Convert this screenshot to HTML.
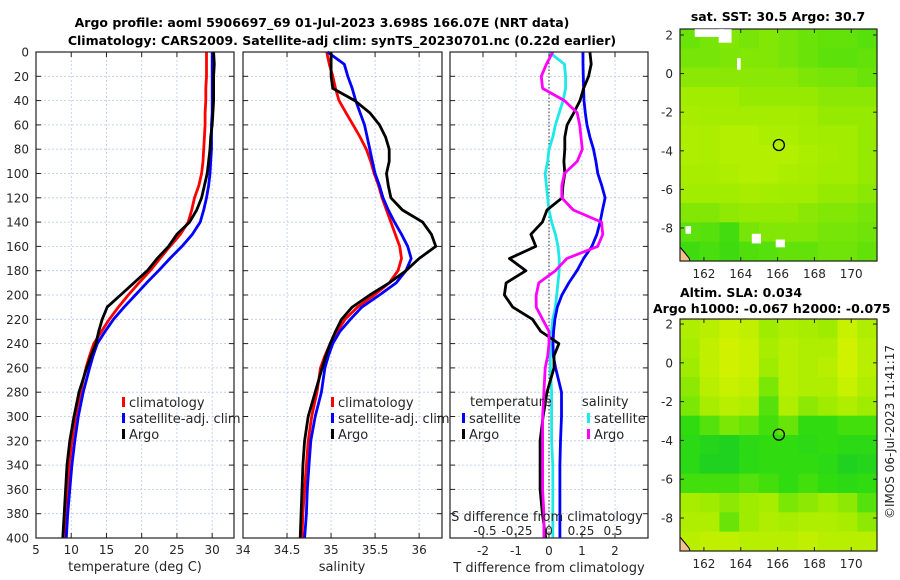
<!DOCTYPE html>
<html><head><meta charset="utf-8"><style>
html,body{margin:0;padding:0;background:#fff;}
svg{display:block;font-family:"DejaVu Sans","Liberation Sans",sans-serif;}
.tk{font-size:12px;fill:#262626;}
.tt{font-size:12.5px;font-weight:bold;fill:#000;}
</style></head><body>
<svg id="fig" width="900" height="580" viewBox="0 0 900 580">
<text class="tt" x="322" y="27" text-anchor="middle">Argo profile: aoml 5906697_69 01-Jul-2023 3.698S 166.07E (NRT data)</text>
<text class="tt" x="342" y="45" text-anchor="middle">Climatology: CARS2009. Satellite-adj clim: synTS_20230701.nc (0.22d earlier)</text>
<text class="tt" x="778" y="21" text-anchor="middle">sat. SST: 30.5 Argo: 30.7</text>
<text class="tt" x="680" y="297">Altim. SLA: 0.034</text>
<text class="tt" x="653" y="313">Argo h1000: -0.067 h2000: -0.075</text>
<text class="tk" x="0" y="0" transform="translate(894,432) rotate(-90)" text-anchor="middle">©IMOS 06-Jul-2023 11:41:17</text>
<g id="g"></g>
</svg>
<script>
const depths=[0,10,20,30,40,50,60,70,80,90,100,110,120,130,140,150,160,170,180,190,200,210,220,230,240,250,260,280,300,320,340,360,380,400];
const tempClim=[29.2,29.2,29.2,29.1,29.1,29.0,29.0,28.9,28.8,28.7,28.5,28.1,27.5,27.1,26.6,25.5,24.0,22.6,21.2,19.6,18.1,16.7,15.4,14.3,13.2,12.6,12.1,11.3,10.6,10.1,9.7,9.5,9.3,9.2];
const tempSat=[30.0,30.0,30.0,30.0,30.0,30.0,29.9,29.9,29.9,29.8,29.7,29.5,29.2,28.8,28.3,27.2,25.7,24.0,22.4,20.7,19.1,17.5,16.0,14.8,13.7,13.1,12.6,11.7,11.0,10.5,10.1,9.8,9.5,9.3];
const tempArgo=[30.2,30.3,30.2,30.2,30.2,30.1,30.0,29.8,29.7,29.5,29.3,28.9,28.5,27.8,26.8,25.0,23.8,22.2,20.8,18.9,17.0,15.1,14.4,13.9,13.5,12.8,12.2,11.1,10.4,9.8,9.4,9.2,9.0,8.8];
const salClim=[34.95,34.98,35.02,35.05,35.09,35.17,35.25,35.33,35.40,35.45,35.49,35.54,35.58,35.63,35.68,35.73,35.78,35.80,35.76,35.66,35.49,35.30,35.16,35.07,34.99,34.93,34.88,34.84,34.78,34.74,34.72,34.70,34.68,34.67];
const salSat=[34.96,35.15,35.19,35.24,35.28,35.33,35.38,35.41,35.44,35.47,35.50,35.55,35.59,35.65,35.72,35.80,35.87,35.91,35.85,35.74,35.55,35.35,35.22,35.10,35.02,34.97,34.93,34.89,34.82,34.77,34.75,34.73,34.72,34.70];
const salArgo=[35.0,35.0,35.0,35.02,35.27,35.44,35.55,35.62,35.66,35.66,35.63,35.65,35.68,35.81,36.04,36.14,36.19,36.0,35.85,35.66,35.44,35.24,35.12,35.05,34.99,34.94,34.90,34.82,34.74,34.70,34.68,34.67,34.66,34.65];
const tDiffSat=[1.03,1.03,1.04,1.05,1.06,1.1,1.15,1.24,1.35,1.42,1.48,1.6,1.7,1.62,1.55,1.45,1.3,1.05,0.85,0.6,0.39,0.25,0.18,0.14,0.12,0.13,0.2,0.38,0.38,0.35,0.33,0.33,0.33,0.33];
const tDiffArgo=[1.24,1.28,1.2,1.05,0.94,0.75,0.55,0.48,0.48,0.45,0.48,0.42,0.4,-0.06,-0.2,-0.55,-0.4,-1.2,-0.7,-1.3,-1.35,-1.1,-0.5,-0.25,0.3,0.15,0.15,-0.06,-0.18,-0.27,-0.27,-0.27,-0.2,-0.1];
const sDiffSat=[0.0,0.12,0.13,0.13,0.11,0.08,0.05,0.03,0.0,-0.01,-0.03,-0.02,-0.01,0.0,0.02,0.05,0.07,0.08,0.08,0.07,0.06,0.05,0.03,0.02,0.01,0.01,0.01,0.02,0.02,0.02,0.03,0.03,0.03,0.03];
const sDiffArgo=[0.03,-0.02,-0.06,-0.05,0.12,0.22,0.24,0.25,0.26,0.22,0.12,0.1,0.1,0.19,0.41,0.42,0.38,0.14,0.05,-0.08,-0.1,-0.1,-0.05,0.0,0.0,-0.01,-0.03,-0.04,-0.05,-0.05,-0.05,-0.05,-0.04,-0.04];
const depthTicks=[0,20,40,60,80,100,120,140,160,180,200,220,240,260,280,300,320,340,360,380,400];
const tempTicks=[5,10,15,20,25,30];
const salTicks=[34,34.5,35,35.5,36];
const tDiffTicks=[-2,-1,0,1,2];
const sDiffTicks=[-0.5,-0.25,0,0.25,0.5];
const sDiffTickLabels=["-0.5","-0.25","0","0.25","0.5"];
const lonTicks=[162,164,166,168,170];
const latTicks=[2,0,-2,-4,-6,-8];
const sstGrid=[
[0.48,0.52,0.56,0.52,0.56,0.52,0.48,0.46,0.46,0.42],
[0.52,0.52,0.54,0.56,0.56,0.52,0.48,0.44,0.44,0.46],
[0.58,0.58,0.58,0.58,0.58,0.58,0.54,0.52,0.52,0.48],
[0.66,0.66,0.66,0.62,0.62,0.62,0.62,0.58,0.58,0.58],
[0.7,0.68,0.68,0.68,0.68,0.68,0.66,0.62,0.62,0.62],
[0.74,0.72,0.76,0.76,0.72,0.72,0.68,0.66,0.66,0.62],
[0.74,0.72,0.76,0.76,0.76,0.76,0.72,0.68,0.66,0.62],
[0.7,0.7,0.74,0.76,0.76,0.72,0.7,0.66,0.66,0.62],
[0.66,0.66,0.66,0.7,0.68,0.66,0.66,0.62,0.62,0.58],
[0.56,0.56,0.6,0.62,0.62,0.62,0.58,0.56,0.56,0.52],
[0.44,0.42,0.36,0.52,0.56,0.56,0.56,0.52,0.52,0.5],
[0.34,0.38,0.34,0.4,0.42,0.46,0.46,0.5,0.5,0.46]];
const slaGrid=[
[0.7,0.75,0.85,0.8,0.6,0.7,0.65,0.6,0.85,0.7],
[0.65,0.8,0.9,0.85,0.65,0.75,0.7,0.7,0.9,0.75],
[0.6,0.8,0.9,0.85,0.6,0.75,0.7,0.75,0.9,0.75],
[0.55,0.75,0.85,0.8,0.5,0.75,0.7,0.7,0.85,0.7],
[0.5,0.65,0.75,0.7,0.4,0.7,0.55,0.6,0.7,0.6],
[0.3,0.4,0.5,0.45,0.35,0.45,0.3,0.3,0.35,0.35],
[0.25,0.2,0.15,0.25,0.3,0.3,0.25,0.3,0.25,0.25],
[0.25,0.15,0.15,0.25,0.3,0.3,0.3,0.25,0.15,0.2],
[0.35,0.35,0.35,0.4,0.35,0.3,0.35,0.3,0.25,0.3],
[0.65,0.6,0.55,0.6,0.65,0.5,0.55,0.6,0.55,0.4],
[0.7,0.7,0.45,0.6,0.7,0.65,0.7,0.7,0.65,0.55],
[0.75,0.8,0.8,0.75,0.75,0.75,0.8,0.75,0.75,0.75]];
const argoLon=166.07, argoLat=-3.7;

const NS="http://www.w3.org/2000/svg";
const G=document.getElementById('g');
function mk(tag,attrs,parent){const e=document.createElementNS(NS,tag);for(const k in attrs)e.setAttribute(k,attrs[k]);(parent||G).appendChild(e);return e;}
const TOP=52,BOT=538;
function yD(d){return TOP+(d/400)*(BOT-TOP);}
function lin(d0,d1,r0,r1){return v=>r0+(v-d0)/(d1-d0)*(r1-r0);}
const xT=lin(5,33.1,36,234);
const xS=lin(34,36.26,243,442);
const xTd=lin(-3,3,450,648);
const xSd=lin(0,0.5,549,613);

function panelFrame(x0,x1,xt,ticks,labels,name,showY,labY){
  depthTicks.forEach(d=>{
    const l=mk('line',{x1:x0,x2:x1,y1:yD(d),y2:yD(d),stroke:'#bcc6ee','stroke-width':0.8,'stroke-dasharray':'2,2'});
    
    
    mk('line',{x1:x0,x2:x0+5,y1:yD(d),y2:yD(d),stroke:'#222'});
    mk('line',{x1:x1-5,x2:x1,y1:yD(d),y2:yD(d),stroke:'#222'});
    if(showY){const t=mk('text',{x:29,y:yD(d)+4.5,'text-anchor':'end',class:'tk'});t.textContent=d;
      
      }
  });
  ticks.forEach((v,i)=>{
    const x=xt(v);
    if(x>x0+1&&x<x1-1){const l=mk('line',{x1:x,x2:x,y1:TOP,y2:BOT,stroke:'#bcc6ee','stroke-width':0.8,'stroke-dasharray':'2,2'});
      
      }
    mk('line',{x1:x,x2:x,y1:BOT-5,y2:BOT,stroke:'#222'});
    mk('line',{x1:x,x2:x,y1:TOP,y2:TOP+5,stroke:'#222'});
    const t=mk('text',{x:x,y:labY||554,'text-anchor':'middle',class:'tk'});t.textContent=labels[i];
    
    
  });
}
function frameBox(x0,x1,name){const r=mk('rect',{x:x0,y:TOP,width:x1-x0,height:BOT-TOP,fill:'none',stroke:'#222','stroke-width':1.2});
  
  }
function line(vals,xf,color,name){
  const pts=vals.map((v,i)=>xf(v).toFixed(1)+','+yD(depths[i]).toFixed(1)).join(' ');
  const p=mk('polyline',{points:pts,fill:'none',stroke:color,'stroke-width':2.8,'stroke-linejoin':'round'});
  
  
}
function legendEntry(x,y,color,label,name){
  const r=mk('rect',{x:x,y:y-9,width:3,height:10,fill:color});
  
  
  const t=mk('text',{x:x+7,y:y+1,class:'tk',style:'font-size:13px'});t.textContent=label;
  
  
}
function label(x,y,txt,name,anchor){const t=mk('text',{x:x,y:y,'text-anchor':anchor||'middle',class:'tk',style:'font-size:13px'});t.textContent=txt;
  
  }

// Panel 1 temperature
panelFrame(36,234,xT,tempTicks,tempTicks.map(String),'temperature',true);
line(tempClim,xT,'#f00','temperature-climatology-line');
line(tempSat,xT,'#00f','temperature-satellite-line');
line(tempArgo,xT,'#000','temperature-argo-line');
frameBox(36,234,'temperature');
legendEntry(122,406,'#f00','climatology','temp-legend-climatology');
legendEntry(122,422,'#00f','satellite-adj. clim','temp-legend-satellite');
legendEntry(122,438,'#000','Argo','temp-legend-argo');
label(135,571,'temperature (deg C)','temperature-axis-title');

// Panel 2 salinity
panelFrame(243,442,xS,salTicks,salTicks.map(String),'salinity',false);
line(salClim,xS,'#f00','salinity-climatology-line');
line(salSat,xS,'#00f','salinity-satellite-line');
line(salArgo,xS,'#000','salinity-argo-line');
frameBox(243,442,'salinity');
legendEntry(331,406,'#f00','climatology','sal-legend-climatology');
legendEntry(331,422,'#00f','satellite-adj. clim','sal-legend-satellite');
legendEntry(331,438,'#000','Argo','sal-legend-argo');
label(342,571,'salinity','salinity-axis-title');

// Panel 3 differences
panelFrame(450,648,xTd,tDiffTicks,tDiffTicks.map(String),'difference',false,555);
{const z=mk('line',{x1:xTd(0),x2:xTd(0),y1:TOP,y2:BOT,stroke:'#333','stroke-width':1,'stroke-dasharray':'1.5,2'});
 
 }
line(sDiffSat,xSd,'#1ee8e8','salinity-satellite-diff-line');
line(tDiffSat,xTd,'#00f','temperature-satellite-diff-line');
line(tDiffArgo,xTd,'#000','temperature-argo-diff-line');
line(sDiffArgo,xSd,'#f0f','salinity-argo-diff-line');
frameBox(450,648,'difference');
label(470,406,'temperature','diff-legend-temperature-header','start');
legendEntry(462,422,'#00f','satellite','diff-legend-temp-satellite');
legendEntry(462,438,'#000','Argo','diff-legend-temp-argo');
label(582,406,'salinity','diff-legend-salinity-header','start');
legendEntry(587,422,'#1ee8e8','satellite','diff-legend-sal-satellite');
legendEntry(587,438,'#f0f','Argo','diff-legend-sal-argo');
label(547,521,'S difference from climatology','s-diff-axis-title');
sDiffTicks.forEach((v,i)=>{const t=mk('text',{x:xSd(v),y:535,'text-anchor':'middle',class:'tk'});t.textContent=sDiffTickLabels[i];
  
  });
label(549,572,'T difference from climatology','t-diff-axis-title');

// Maps
const LON0=160.7,LON1=171.4;
function cmap(v,stops){for(let i=1;i<stops.length;i++){if(v<=stops[i][0]||i==stops.length-1){const a=stops[i-1],b=stops[i];const f=Math.max(0,Math.min(1,(v-a[0])/(b[0]-a[0])));
  const c=a[1].map((x,k)=>Math.round(x+(b[1][k]-x)*f));return 'rgb('+c.join(',')+')';}}}
const sstStops=[[0,[16,192,32]],[0.35,[64,220,16]],[0.65,[160,236,0]],[1,[216,244,0]]];
const slaStops=[[0,[16,200,48]],[0.3,[48,220,16]],[0.6,[160,236,0]],[1,[224,244,0]]];
function drawMap(x0,y0,x1,y1,lat0,lat1,grid,stops,name){
  const xL=lin(LON0,LON1,x0,x1), yL=lin(lat0,lat1,y0,y1);
  const rows=grid.length, cols=grid[0].length;
  const cw=(x1-x0)/cols, ch=(y1-y0)/rows;
  grid.forEach((row,r)=>row.forEach((v,c)=>{
    const e=mk('rect',{x:(x0+c*cw).toFixed(2),y:(y0+r*ch).toFixed(2),width:(cw+0.6).toFixed(2),height:(ch+0.6).toFixed(2),fill:cmap(v,stops)});
    
    
  }));
  const cst=mk('polygon',{points:`${x0},${y1-14} ${x0+5},${y1-8} ${x0+9},${y1-3} ${x0+10},${y1} ${x0},${y1}`,fill:'#f4c090',stroke:'#000','stroke-width':1});
  
  
  const ci=mk('circle',{cx:xL(argoLon),cy:yL(argoLat),r:5.5,fill:'none',stroke:'#000','stroke-width':1.3});
  
  
  const b=mk('rect',{x:x0,y:y0,width:x1-x0,height:y1-y0,fill:'none',stroke:'#222','stroke-width':1.2});
  
  
  lonTicks.forEach(v=>{const x=xL(v);mk('line',{x1:x,x2:x,y1:y1-4,y2:y1,stroke:'#222'});mk('line',{x1:x,x2:x,y1:y0,y2:y0+4,stroke:'#222'});
    const t=mk('text',{x:x,y:y1+17,'text-anchor':'middle',class:'tk'});t.textContent=v;
    
    });
  latTicks.forEach(v=>{const y=yL(v);mk('line',{x1:x0,x2:x0+4,y1:y,y2:y,stroke:'#222'});mk('line',{x1:x1-4,x2:x1,y1:y,y2:y,stroke:'#222'});
    const t=mk('text',{x:x0-7,y:y+4.5,'text-anchor':'end',class:'tk'});t.textContent=v;
    
    });
  return {xL,yL};
}
const m1=drawMap(680,29,877,261,2.31,-9.71,sstGrid,sstStops,'sst-map');
[[161.5,2.3,163.1,1.9],[162.8,2.3,163.5,1.6],[163.8,0.8,164.0,0.2],[164.6,-8.3,165.1,-8.8],[165.9,-8.6,166.4,-9.0],[161.0,-7.9,161.3,-8.3]].forEach(p=>{
  const r=mk('rect',{x:m1.xL(p[0]),y:m1.yL(p[1]),width:m1.xL(p[2])-m1.xL(p[0]),height:m1.yL(p[3])-m1.yL(p[1]),fill:'#fff'});
  
  
});
drawMap(680,319,877,551,2.26,-9.7,slaGrid,slaStops,'sla-map');
</script>
</body></html>
